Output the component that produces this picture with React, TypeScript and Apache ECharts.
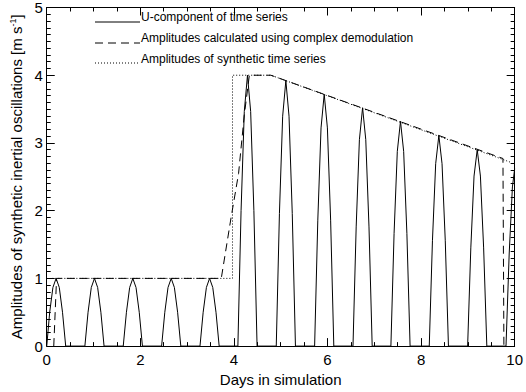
import React, { useEffect, useRef } from "react";
import * as echarts from "echarts";

// U-component of time series (days, m/s), clipped at 0 by the plot
const uComponent: [number, number][] = [
  [0, 0], [0.063, 0.5], [0.132, 0.866], [0.2, 1], [0.268, 0.866], [0.337, 0.5], [0.405, 0],
  [0.815, 0], [0.883, 0.5], [0.952, 0.866], [1.02, 1], [1.088, 0.866], [1.157, 0.5], [1.225, 0],
  [1.635, 0], [1.703, 0.5], [1.772, 0.866], [1.84, 1], [1.908, 0.866], [1.977, 0.5], [2.045, 0],
  [2.455, 0], [2.523, 0.5], [2.592, 0.866], [2.66, 1], [2.728, 0.866], [2.797, 0.5], [2.865, 0],
  [3.275, 0], [3.343, 0.5], [3.412, 0.866], [3.48, 1], [3.548, 0.866], [3.617, 0.5], [3.685, 0],
  [4.085, 0], [4.153, 2.0], [4.222, 3.464], [4.29, 4.0], [4.358, 3.464], [4.427, 2.0], [4.495, 0],
  [4.905, 0], [4.973, 1.96], [5.042, 3.395], [5.11, 3.92], [5.178, 3.395], [5.247, 1.96], [5.315, 0],
  [5.725, 0], [5.793, 1.86], [5.862, 3.222], [5.93, 3.72], [5.998, 3.222], [6.067, 1.86], [6.135, 0],
  [6.545, 0], [6.613, 1.76], [6.682, 3.048], [6.75, 3.52], [6.818, 3.048], [6.887, 1.76], [6.955, 0],
  [7.355, 0], [7.423, 1.66], [7.492, 2.875], [7.56, 3.32], [7.628, 2.875], [7.697, 1.66], [7.765, 0],
  [8.175, 0], [8.243, 1.555], [8.312, 2.693], [8.38, 3.11], [8.448, 2.693], [8.517, 1.555], [8.585, 0],
  [8.995, 0], [9.063, 1.45], [9.132, 2.511], [9.2, 2.9], [9.268, 2.511], [9.337, 1.45], [9.405, 0],
  [9.815, 0], [9.883, 1.36], [9.952, 2.35], [10.0, 2.62],
];

// Amplitudes calculated using complex demodulation
const demodAmplitude: [number, number][] = [
  [0.15, 0], [0.21, 1], [3.73, 1], [3.94, 1.9], [4.1, 2.55], [4.22, 3.4], [4.33, 4],
  [4.79, 4], [9.75, 2.77], [9.77, 0],
];

// Amplitudes of synthetic time series
const syntheticAmplitude: [number, number][] = [
  [0.12, 1], [3.97, 1], [3.97, 4], [4.79, 4], [9.93, 2.71],
];

const legendLabels = [
  "U-component of time series",
  "Amplitudes calculated using complex demodulation",
  "Amplitudes of synthetic time series",
];

const FONT = "'Liberation Sans', Arial, Helvetica, sans-serif";

export default function App() {
  const ref = useRef<HTMLDivElement>(null);

  useEffect(() => {
    if (!ref.current) return;
    const chart = echarts.init(ref.current, null, { renderer: "svg" });

    const axisCommon = {
      axisLine: { show: true, onZero: false, lineStyle: { color: "#000", width: 1 } },
      axisTick: { show: true, inside: true, length: 8, lineStyle: { color: "#000", width: 1 } },
      splitLine: { show: false },
    };

    const option: any = {
      animation: false,
      backgroundColor: "#fff",
      grid: { left: 46, right: 7, top: 7, bottom: 39, containLabel: false },
      xAxis: [
        {
          type: "value",
          min: 0,
          max: 10,
          interval: 2,
          position: "bottom",
          ...axisCommon,
          minorTick: { show: true, splitNumber: 4, length: 4, lineStyle: { color: "#000", width: 1 } },
          axisLabel: { color: "#000", fontSize: 15, fontFamily: FONT, margin: 6 },
          name: "Days in simulation",
          nameLocation: "middle",
          nameGap: 22,
          nameTextStyle: { color: "#000", fontSize: 15, fontFamily: FONT },
        },
        {
          type: "value",
          min: 0,
          max: 10,
          interval: 2,
          position: "top",
          ...axisCommon,
          minorTick: { show: true, splitNumber: 4, length: 4, lineStyle: { color: "#000", width: 1 } },
          axisLabel: { show: false },
        },
      ],
      yAxis: [
        {
          type: "value",
          min: 0,
          max: 5,
          interval: 1,
          position: "left",
          ...axisCommon,
          minorTick: { show: true, splitNumber: 10, length: 4, lineStyle: { color: "#000", width: 1 } },
          axisLabel: { color: "#000", fontSize: 15, fontFamily: FONT, margin: 4 },
          name: "Amplitudes of synthetic inertial oscillations [m s{sup|-1}]",
          nameLocation: "middle",
          nameGap: 21,
          nameRotate: 90,
          nameTextStyle: {
            color: "#000",
            fontSize: 15,
            fontFamily: FONT,
            rich: {
              sup: { fontSize: 9, fontFamily: FONT, color: "#000", verticalAlign: "top", padding: [0, 0, 7, 0] },
            },
          },
        },
        {
          type: "value",
          min: 0,
          max: 5,
          interval: 1,
          position: "right",
          ...axisCommon,
          minorTick: { show: true, splitNumber: 10, length: 4, lineStyle: { color: "#000", width: 1 } },
          axisLabel: { show: false },
        },
      ],
      series: [
        {
          name: legendLabels[0],
          type: "line",
          data: uComponent,
          showSymbol: false,
          lineStyle: { color: "#000", width: 1, type: "solid" },
          xAxisIndex: 0,
          yAxisIndex: 0,
        },
        {
          name: legendLabels[1],
          type: "line",
          data: demodAmplitude,
          showSymbol: false,
          lineStyle: { color: "#000", width: 1, type: [8, 5] },
          xAxisIndex: 0,
          yAxisIndex: 0,
        },
        {
          name: legendLabels[2],
          type: "line",
          data: syntheticAmplitude,
          showSymbol: false,
          lineStyle: { color: "#000", width: 1, type: [1, 2] },
          xAxisIndex: 0,
          yAxisIndex: 0,
        },
      ],
      graphic: [
        { type: "line", shape: { x1: 95, y1: 22, x2: 140, y2: 22 }, style: { stroke: "#000", lineWidth: 1 } },
        { type: "line", shape: { x1: 95, y1: 43, x2: 140, y2: 43 }, style: { stroke: "#000", lineWidth: 1, lineDash: [8, 5] } },
        { type: "line", shape: { x1: 95, y1: 63, x2: 140, y2: 63 }, style: { stroke: "#000", lineWidth: 1, lineDash: [1, 2] } },
        { type: "text", x: 141, y: 17, style: { text: legendLabels[0], fill: "#000", font: `12px ${FONT}`, verticalAlign: "middle" } },
        { type: "text", x: 141, y: 38, style: { text: legendLabels[1], fill: "#000", font: `12px ${FONT}`, verticalAlign: "middle" } },
        { type: "text", x: 141, y: 59, style: { text: legendLabels[2], fill: "#000", font: `12px ${FONT}`, verticalAlign: "middle" } },
      ],
    };

    chart.setOption(option);
    return () => chart.dispose();
  }, []);

  return (
    <div
      ref={ref}
      style={{ position: "fixed", left: 0, top: 0, width: 526, height: 392, background: "#fff" }}
    />
  );
}
